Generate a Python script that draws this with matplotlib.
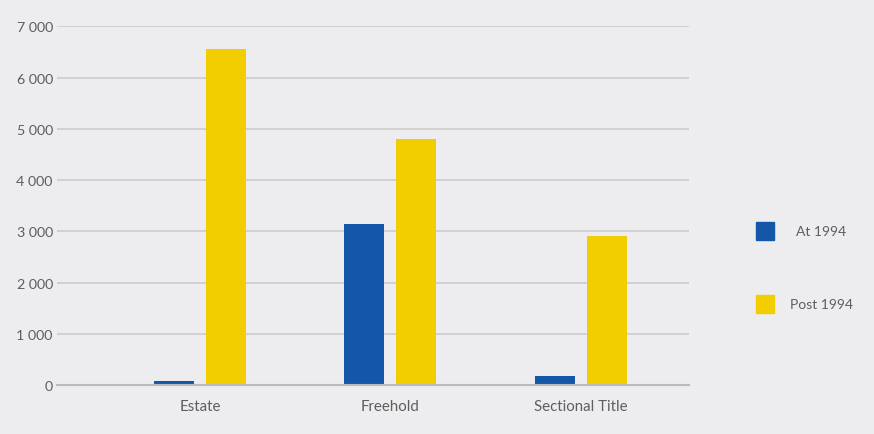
import numpy as np
import matplotlib.pyplot as plt
from matplotlib.patches import Rectangle

categories = ['Estate', 'Freehold', 'Sectional Title']
series_names = ['At 1994', 'Post 1994']
at_1994 = [70, 3150, 180]
post_1994 = [6550, 4800, 2910]
yticks = [0, 1000, 2000, 3000, 4000, 5000, 6000, 7000]

bg = '#EDEDEF'
blue = '#1457A8'
yellow = '#F2CD00'
text_col = '#5E5E5E'

plt.rcParams['font.family'] = ['Lato', 'DejaVu Sans']

W, H = 874, 435
fig = plt.figure(figsize=(W / 100, H / 100), dpi=100, facecolor=bg)
ax = fig.add_axes([57 / W, (H - 386) / H, (689 - 57) / W, (386 - 27.3) / H])
ax.set_facecolor(bg)

x = np.arange(len(categories))
w = 40 / 190.5
off = 26 / 190.5
ax.bar(x - off, at_1994, width=w, color=blue, zorder=3)
ax.bar(x + off, post_1994, width=w, color=yellow, zorder=3)

ax.set_xlim(-0.75, 2.567)
ax.set_ylim(0, 7000)
ax.set_yticks(yticks)
ax.set_yticklabels(['{:,}'.format(v).replace(',', ' ') for v in yticks])
ax.set_xticks(x)
ax.set_xticklabels(categories)
ax.tick_params(axis='both', length=0, labelcolor=text_col)
ax.tick_params(axis='y', pad=3, labelsize=10.3)
ax.tick_params(axis='x', pad=10, labelsize=10.8)
ax.grid(axis='y', color='#CCCCCC', linewidth=1.2, zorder=0)
for s in ['top', 'right', 'left']:
    ax.spines[s].set_visible(False)
ax.spines['bottom'].set_color('#BBBBBB')
ax.spines['bottom'].set_linewidth(1.5)
ax.spines['bottom'].set_zorder(4)

# legend drawn by hand on the right
for name, col, yc in [(series_names[0], blue, 232), (series_names[1], yellow, 305)]:
    fig.patches.append(Rectangle((756 / W, (H - yc - 9) / H), 18 / W, 18 / H,
                                 transform=fig.transFigure, color=col))
    fig.text(821 / W, (H - yc) / H, name, ha='center', va='center',
             fontsize=10, color=text_col)

fig.savefig('out.png', dpi=100, facecolor=bg)
